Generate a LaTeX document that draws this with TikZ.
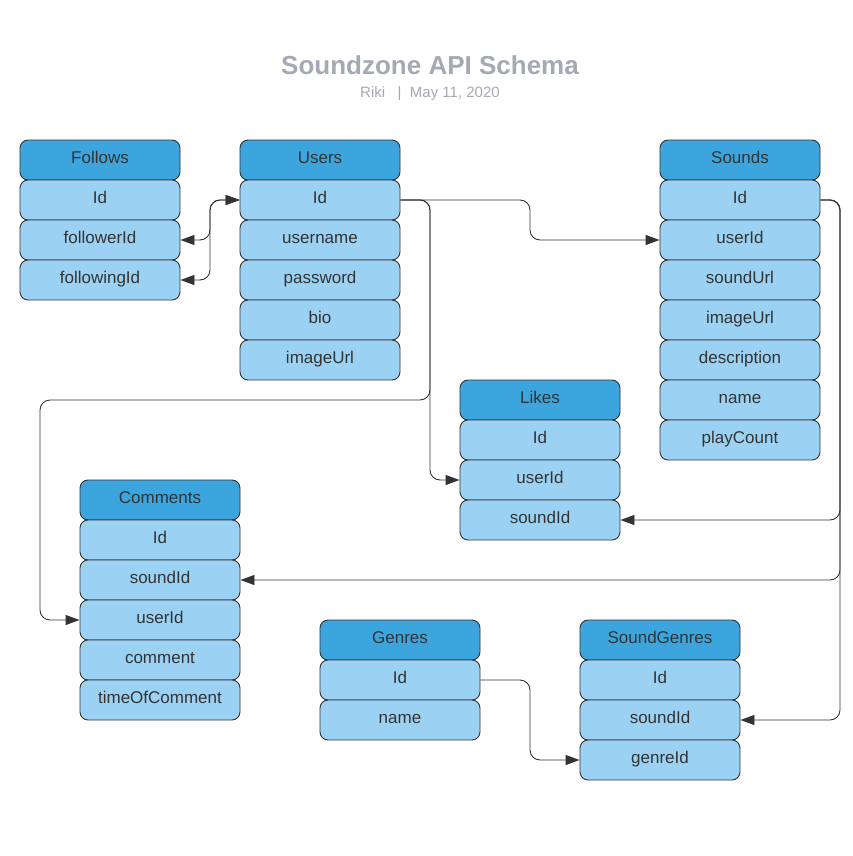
\documentclass[tikz,border=0pt]{standalone}
\usepackage{fontspec}
\setmainfont{Liberation Sans}
\usetikzlibrary{arrows.meta}
\definecolor{hdrblue}{HTML}{3CA5DE}
\definecolor{rowblue}{HTML}{9BD2F3}
\definecolor{edge}{HTML}{333333}
\definecolor{titlegray}{HTML}{A4A9B3}
\begin{document}
\begin{tikzpicture}[x=1pt,y=-1pt,
  cell/.style={draw=edge,line width=0.9pt,rounded corners=8pt,minimum width=160pt,minimum height=40pt,inner sep=0pt,text=edge,text height=12pt,text depth=6pt,font=\fontsize{17}{20}\selectfont},
  hdr/.style={cell,fill=hdrblue},
  row/.style={cell,fill=rowblue},
  conn/.style={draw=edge,line width=0.9pt,rounded corners=10pt,-{Triangle[length=14pt,width=10pt]}},
  conn2/.style={draw=edge,line width=0.9pt,rounded corners=10pt,{Triangle[length=14pt,width=10pt]}-{Triangle[length=14pt,width=10pt]}}]
\useasboundingbox[fill=white] (0,0) rectangle (852,856);
\node[text=titlegray,font=\fontsize{26}{30}\selectfont\bfseries] (title) at (430,65) {Soundzone API Schema};
\node[text=titlegray,font=\fontsize{15}{18}\selectfont] (sub) at (430,94) {Riki \ \ |\ \ May 11, 2020};
% Follows
\node[hdr] (fol) at (100,160) {Follows};
\node[row] (fol-id) at (100,200) {Id};
\node[row] (fol-fr) at (100,240) {followerId};
\node[row] (fol-fg) at (100,280) {followingId};
% Users
\node[hdr] (usr) at (320,160) {Users};
\node[row] (usr-id) at (320,200) {Id};
\node[row] (usr-un) at (320,240) {username};
\node[row] (usr-pw) at (320,280) {password};
\node[row] (usr-bio) at (320,320) {bio};
\node[row] (usr-img) at (320,360) {imageUrl};
% Sounds
\node[hdr] (snd) at (740,160) {Sounds};
\node[row] (snd-id) at (740,200) {Id};
\node[row] (snd-uid) at (740,240) {userId};
\node[row] (snd-url) at (740,280) {soundUrl};
\node[row] (snd-img) at (740,320) {imageUrl};
\node[row] (snd-desc) at (740,360) {description};
\node[row] (snd-name) at (740,400) {name};
\node[row] (snd-pc) at (740,440) {playCount};
% Likes
\node[hdr] (lik) at (540,400) {Likes};
\node[row] (lik-id) at (540,440) {Id};
\node[row] (lik-uid) at (540,480) {userId};
\node[row] (lik-sid) at (540,520) {soundId};
% Comments
\node[hdr] (com) at (160,500) {Comments};
\node[row] (com-id) at (160,540) {Id};
\node[row] (com-sid) at (160,580) {soundId};
\node[row] (com-uid) at (160,620) {userId};
\node[row] (com-c) at (160,660) {comment};
\node[row] (com-t) at (160,700) {timeOfComment};
% Genres
\node[hdr] (gen) at (400,640) {Genres};
\node[row] (gen-id) at (400,680) {Id};
\node[row] (gen-name) at (400,720) {name};
% SoundGenres
\node[hdr] (sg) at (660,640) {SoundGenres};
\node[row] (sg-id) at (660,680) {Id};
\node[row] (sg-sid) at (660,720) {soundId};
\node[row] (sg-gid) at (660,760) {genreId};
% connectors
\draw[conn2] (fol-fr.east) -- (210,240) -- (210,200) -- (usr-id.west);
\draw[conn2] (fol-fg.east) -- (210,280) -- (210,200) -- (usr-id.west);
\draw[conn] (usr-id.east) -- (530,200) -- (530,240) -- (snd-uid.west);
\draw[conn] (usr-id.east) -- (430,200) -- (430,400) -- (40,400) -- (40,620) -- (com-uid.west);
\draw[conn] (usr-id.east) -- (430,200) -- (430,480) -- (lik-uid.west);
\draw[conn] (snd-id.east) -- (840,200) -- (840,520) -- (lik-sid.east);
\draw[conn] (snd-id.east) -- (840,200) -- (840,580) -- (com-sid.east);
\draw[conn] (snd-id.east) -- (840,200) -- (840,720) -- (sg-sid.east);
\draw[conn] (gen-id.east) -- (530,680) -- (530,760) -- (sg-gid.west);
\end{tikzpicture}
\end{document}
